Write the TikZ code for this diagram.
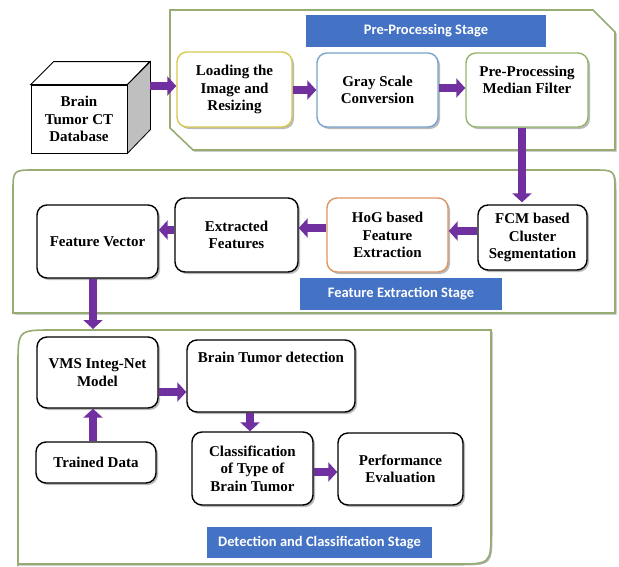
\documentclass[tikz,border=0pt]{standalone}
\usepackage{fontspec}
\setmainfont{Liberation Serif}
\newfontfamily\bannerfont{Carlito}
\usetikzlibrary{arrows.meta,shadows,calc}
\definecolor{parr}{RGB}{112,48,160}
\definecolor{bann}{RGB}{68,114,196}
\definecolor{contc}{RGB}{150,172,115}
\definecolor{yelb}{RGB}{215,200,80}
\definecolor{blub}{RGB}{120,165,205}
\definecolor{grnb}{RGB}{150,180,110}
\definecolor{orab}{RGB}{220,150,100}
\newcommand{\nfont}{\bfseries\fontsize{15}{17.5}\selectfont}
\begin{document}
\begin{tikzpicture}[x=1pt,y=-1pt,
  box/.style={draw=black, line width=1.4pt, rounded corners=10pt, fill=white, align=center, font=\nfont, inner sep=2pt,
    drop shadow={shadow xshift=2pt,shadow yshift=-2pt,opacity=0.45,fill=black!60}},
  txt/.style={align=center, font=\nfont, inner sep=0pt},
  parrow/.style={draw=parr, line width=8pt, -{Triangle[width=19pt,length=9pt]}},
  cont/.style={draw=contc, line width=1.6pt, fill=white,
    drop shadow={shadow xshift=1.5pt,shadow yshift=-1.5pt,opacity=0.6,fill=black!50}},
  banner/.style={fill=bann, text=white, font=\bannerfont\bfseries\fontsize{14.5}{16}\selectfont, inner sep=0pt},
  cubeline/.style={draw=black, line width=0.8pt}
]
\useasboundingbox (0,0) rectangle (619,566);

% containers
\draw[cont] (170,10) -- (593,10) -- (615,32) -- (615,150) -- (193,150) -- (170,128) -- cycle;
\draw[cont] (13,313) -- (13,192) .. controls (13,170) .. (35,170) -- (593,170) .. controls (615,170) .. (615,192) -- (615,313) -- cycle;
\draw[cont] (18,566) -- (18,365) .. controls (18,330) .. (53,330) -- (491,330) -- (491,530) .. controls (491,564) .. (456,564) -- (18,564);

% banners
\node[banner, minimum width=240, minimum height=32] (bpre) at (426,31) {Pre-Processing Stage};
\node[banner, minimum width=202, minimum height=32] (bfeat) at (401,294) {Feature Extraction Stage};
\node[banner, minimum width=225, minimum height=31] (bdet) at (319.5,542.5) {Detection and Classification Stage};

% database cube
\node[cubeline, fill=white, minimum width=96, minimum height=68, align=center, font=\nfont, inner sep=0pt] (db) at (79,119) {Brain\\Tumor CT\\Database};
\draw[cubeline, fill=white] (db.north west) -- ++(23,-23) -- ++(96,0) -- (db.north east) -- cycle;
\draw[cubeline, fill=black!25] (db.north east) -- ++(23,-23) -- ++(0,68) -- (db.south east) -- cycle;
\coordinate (dbs) at ($(db.east)+(23,-33)$);

% pre-processing nodes
\node[box, draw=yelb, minimum width=115, minimum height=75] (load) at (234.5,89.5) {Loading the\\Image and\\Resizing};
\node[box, draw=blub, minimum width=121, minimum height=74] (gray) at (377.5,90) {Gray Scale\\Conversion};
\node[box, draw=grnb, minimum width=122, minimum height=74] (med) at (527,90) {};
\node[txt] (medt) at ($(med.center)+(0,-10)$) {Pre-Processing\\Median Filter};

% feature extraction nodes
\node[box, minimum width=121, minimum height=73] (fv) at (97.5,241.5) {Feature Vector};
\node[box, minimum width=123, minimum height=74] (ext) at (236.5,235) {Extracted\\Features};
\node[box, draw=orab, minimum width=121, minimum height=74] (hog) at (387.5,235) {HoG based\\Feature\\Extraction};
\node[box, minimum width=109, minimum height=65] (fcm) at (532.5,237.5) {FCM based\\Cluster\\Segmentation};

% detection nodes
\node[box, minimum width=121, minimum height=71] (vms) at (97.5,372.5) {VMS Integ-Net\\Model};
\node[box, minimum width=168, minimum height=72] (btd) at (271,376) {};
\node[txt] (btdt) at ($(btd.north)+(0,18)$) {Brain Tumor detection};
\node[box, minimum width=120, minimum height=41] (tr) at (96,462.5) {Trained Data};
\node[box, minimum width=121, minimum height=73] (cls) at (252.5,468.5) {Classification\\of Type of\\Brain Tumor};
\node[box, minimum width=125, minimum height=72] (perf) at (400.5,469) {Performance\\Evaluation};

\coordinate (dettop) at (93,329);

% arrows
\draw[parrow] (dbs) -- ($(load.west)+(0,-3.5)$);
\draw[parrow] ($(load.east)+(0,0.5)$) -- (gray.west);
\draw[parrow] ($(gray.east)+(0,-2)$) -- ($(med.west)+(0,-2)$);
\draw[parrow] ($(med.south)+(-5,0)$) -- ($(fcm.north)+(-10.5,-2)$);
\draw[parrow] ($(fcm.west)+(0,-6.5)$) -- ($(hog.east)+(0,-4)$);
\draw[parrow] ($(hog.west)+(0,-7)$) -- ($(ext.east)+(0,-7)$);
\draw[parrow] ($(ext.west)+(0,-5)$) -- ($(fv.east)+(0,-11.5)$);
\draw[parrow] ($(fv.south)+(-4.5,0)$) -- (dettop);
\draw[parrow] ($(vms.east)+(0,19.5)$) -- ($(btd.west)+(0,16)$);
\draw[parrow] ($(tr.north)+(-3,0)$) -- ($(vms.south)+(-4.5,0)$);
\draw[parrow] ($(btd.south)+(-21,0)$) -- ($(cls.north)+(-2.5,0)$);
\draw[parrow] ($(cls.east)+(0,3.5)$) -- ($(perf.west)+(0,3)$);
\end{tikzpicture}
\end{document}
